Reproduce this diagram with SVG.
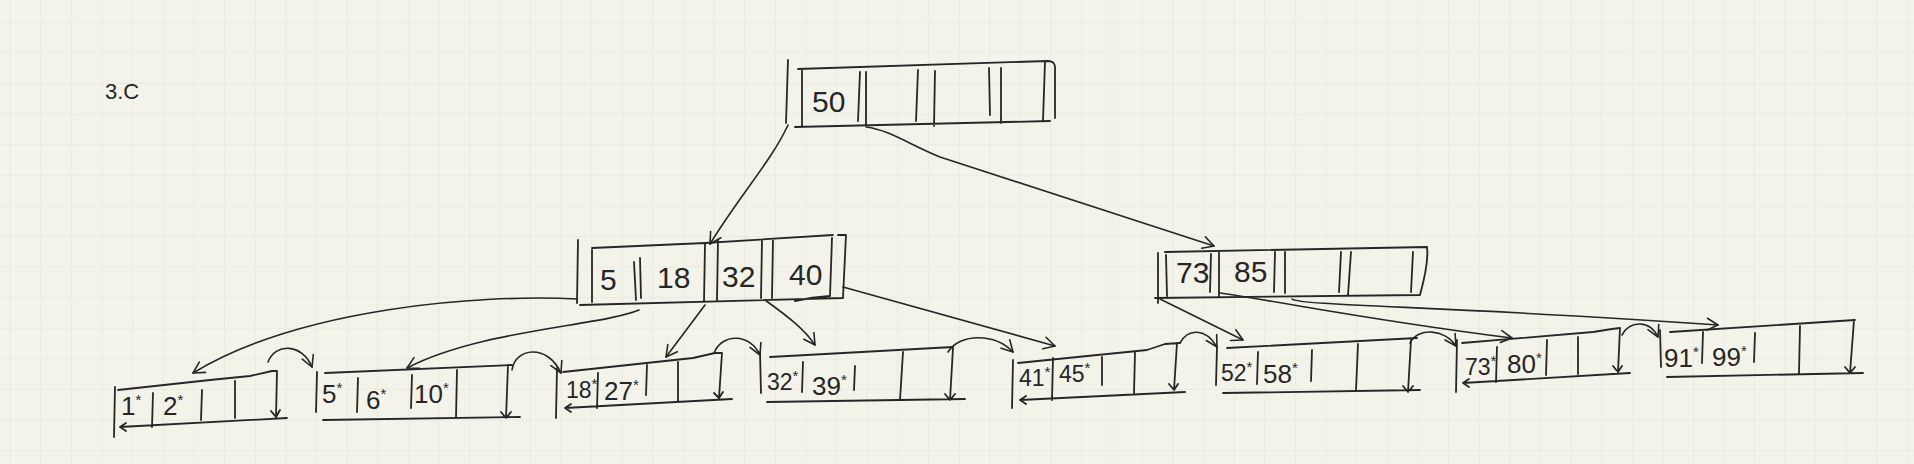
<svg xmlns="http://www.w3.org/2000/svg" width="1914" height="464" viewBox="0 0 1914 464">
<style>
.s{fill:none;stroke:#262626;stroke-width:1.8;stroke-linecap:round;stroke-linejoin:round}
.c{fill:none;stroke:#262626;stroke-width:1.6;stroke-linecap:round;stroke-linejoin:round;marker-end:url(#ah)}
.k{font-family:"Liberation Sans",Arial,sans-serif;font-size:30px;fill:#262626}
.l{font-family:"Liberation Sans",Arial,sans-serif;font-size:23px;fill:#262626}
.b{font-size:26px}
.st{font-size:15px}
</style>
<defs>
<pattern id="grid" patternUnits="userSpaceOnUse" x="9.9" y="21.8" width="30.6" height="30.6">
<path d="M0,0 H30.6 M0,0 V30.6" fill="none" stroke="#e2e2d8" stroke-width="1"/>
</pattern>
<marker id="ah" markerUnits="userSpaceOnUse" markerWidth="16" markerHeight="16" refX="12" refY="6" orient="auto" viewBox="0 0 16 12">
<path d="M1,0 L12,6 L1,12" fill="none" stroke="#262626" stroke-width="1.6" stroke-linecap="round" stroke-linejoin="round"/>
</marker>
</defs>
<rect width="1914" height="464" fill="#f4f3ea"/>
<rect width="1914" height="464" fill="url(#grid)"/>

<g id="title">
<text x="105" y="99" style="font-family:'Liberation Sans',Arial,sans-serif;font-size:22px;fill:#262626">3.C</text>
</g>

<g id="root">
<path class="s" d="M788,60 L786,123 M802,70 L802,126 M798,69 L1048,61 Q1056,61 1055,70 L1055,118 M795,127 L1050,121 M860,72 L858,121 M866,72 L866,126 M918,70 L916,121 M935,71 L934,126 M989,68 L990,115 M1001,68 L1001,123 M1045,62 L1043,120"/>
<text class="k" x="812" y="112">50</text>
</g>

<g id="n-left">
<path class="s" d="M578,240 L577,303 M592,250 L592,302 M592,248 L705,243 L833,235 M838,235 L846,235 L843,298 M580,305 L843,298 M634,262 L636,300 M640,258 L641,298 M705,244 L704,302 M718,240 L717,300 M762,240 L761,298 M773,240 L772,298 M832,238 L830,296 M795,301 Q812,297 830,296"/>
<text class="k" x="600" y="290">5</text>
<text class="k" x="657" y="288">18</text>
<text class="k" x="722" y="287">32</text>
<text class="k" x="789" y="285">40</text>
</g>

<g id="n-right">
<path class="s" d="M1158,253 L1158,303 M1166,255 L1167,296 M1165,252 L1427,247 Q1429,262 1420,295 M1155,298 L1420,295 M1211,254 L1210,292 M1219,252 L1219,296 M1275,252 L1274,292 M1285,252 L1285,293 M1341,252 L1339,292 M1351,252 L1348,295 M1413,252 L1411,292"/>
<text class="k" x="1176" y="283">73</text>
<text class="k" x="1234" y="282">85</text>
</g>

<g id="leaf-1">
<path class="s" d="M115,387 L114,437 M118,390 L210,380 L250,376 L272,371 L277,371 L276,417 M271,411 L276,417 L280,410 M120,427 L287,418 M126,423 L120,427 L126,431 M153,393 L152,427 M202,390 L201,420 M235,381 L235,418"/>
<text class="l b" x="121" y="415">1<tspan class="st" dy="-10">*</tspan></text>
<text class="l b" x="163" y="415">2<tspan class="st" dy="-10">*</tspan></text>
</g>

<g id="leaf-2">
<path class="s" d="M317,372 L316,412 M325,373 L512,365 M508,365 L506,418 M501,412 L506,418 L511,412 M323,420 L520,417 M358,378 L357,412 M412,375 L411,408 M457,370 L456,418"/>
<text class="l b" x="322" y="403">5<tspan class="st" dy="-10">*</tspan></text>
<text class="l b" x="366" y="409">6<tspan class="st" dy="-10">*</tspan></text>
<text class="l b" x="414" y="403">10<tspan class="st" dy="-10">*</tspan></text>
</g>

<g id="leaf-3">
<path class="s" d="M557,368 L556,418 M563,372 L693,358 L715,353 L722,353 L719,398 M714,393 L719,398 L723,392 M565,408 L732,399 M571,404 L565,408 L571,412 M598,373 L597,408 M647,365 L646,395 M678,362 L678,401"/>
<text class="l" x="566" y="398">18<tspan class="st" dy="-9">*</tspan></text>
<text class="l b" x="604" y="400">27<tspan class="st" dy="-10">*</tspan></text>
</g>

<g id="leaf-4">
<path class="s" d="M760,352 L761,393 M770,357 L953,347 M953,348 L950,400 M945,394 L950,400 L955,394 M767,402 L965,399 M803,362 L802,392 M855,366 L854,390 M903,352 L900,400"/>
<text class="l" x="767" y="390">32<tspan class="st" dy="-9">*</tspan></text>
<text class="l b" x="812" y="395">39<tspan class="st" dy="-10">*</tspan></text>
</g>

<g id="leaf-5">
<path class="s" d="M1013,360 L1012,408 M1018,363 L1147,350 L1165,344 L1180,343 M1177,343 L1174,390 M1169,384 L1174,390 L1178,384 M1020,400 L1185,392 M1026,396 L1020,400 L1026,404 M1053,358 L1052,400 M1102,357 L1102,385 M1135,353 L1134,393"/>
<text class="l" x="1019" y="386">41<tspan class="st" dy="-9">*</tspan></text>
<text class="l" x="1059" y="382">45<tspan class="st" dy="-9">*</tspan></text>
</g>

<g id="leaf-6">
<path class="s" d="M1217,347 L1216,385 M1227,348 L1417,338 M1411,340 L1408,392 M1403,386 L1408,392 L1413,386 M1223,393 L1420,390 M1258,352 L1257,384 M1312,350 L1311,381 M1358,344 L1356,390"/>
<text class="l" x="1221" y="381">52<tspan class="st" dy="-9">*</tspan></text>
<text class="l b" x="1263" y="383">58<tspan class="st" dy="-10">*</tspan></text>
</g>

<g id="leaf-7">
<path class="s" d="M1457,340 L1456,392 M1462,343 L1593,332 L1612,329 L1620,328 L1618,372 M1613,366 L1618,372 L1622,366 M1463,383 L1630,373 M1469,379 L1463,383 L1469,387 M1497,347 L1496,382 M1547,340 L1546,375 M1578,337 L1578,374"/>
<text class="l" x="1465" y="375">73<tspan class="st" dy="-9">*</tspan></text>
<text class="l b" x="1507" y="373">80<tspan class="st" dy="-10">*</tspan></text>
</g>

<g id="leaf-8">
<path class="s" d="M1660,330 L1661,367 M1670,332 L1855,320 M1854,320 L1850,373 M1845,367 L1850,373 L1855,367 M1667,377 L1863,373 M1703,332 L1702,363 M1755,333 L1754,362 M1800,326 L1799,373"/>
<text class="l b" x="1664" y="367">91<tspan class="st" dy="-10">*</tspan></text>
<text class="l b" x="1712" y="366">99<tspan class="st" dy="-10">*</tspan></text>
</g>

<g id="connectors">
<path class="c" d="M788,125 C772,160 740,195 710,244"/>
<path class="c" d="M866,127 C890,130 910,145 940,157 L1214,246"/>
<path class="c" d="M577,299 C480,294 300,308 193,373"/>
<path class="c" d="M639,310 C600,326 480,330 407,368"/>
<path class="c" d="M705,305 L666,357"/>
<path class="c" d="M765,300 C790,318 805,330 815,345"/>
<path class="c" d="M843,287 L1055,346"/>
<path class="c" d="M1160,299 L1243,340"/>
<path class="c" d="M1220,293 C1300,305 1370,320 1512,338"/>
<path class="c" d="M1292,299 C1300,306 1450,306 1718,325"/>
<path class="c" d="M268,362 C275,343 302,343 312,367"/>
<path class="c" d="M512,370 C515,348 547,343 561,373"/>
<path class="c" d="M714,353 C722,333 750,333 760,355"/>
<path class="c" d="M948,352 C960,333 995,333 1013,352"/>
<path class="c" d="M1180,343 C1188,328 1206,328 1217,347"/>
<path class="c" d="M1410,343 C1418,327 1445,329 1456,346"/>
<path class="c" d="M1622,335 C1630,320 1650,320 1658,337"/>
</g>
</svg>
